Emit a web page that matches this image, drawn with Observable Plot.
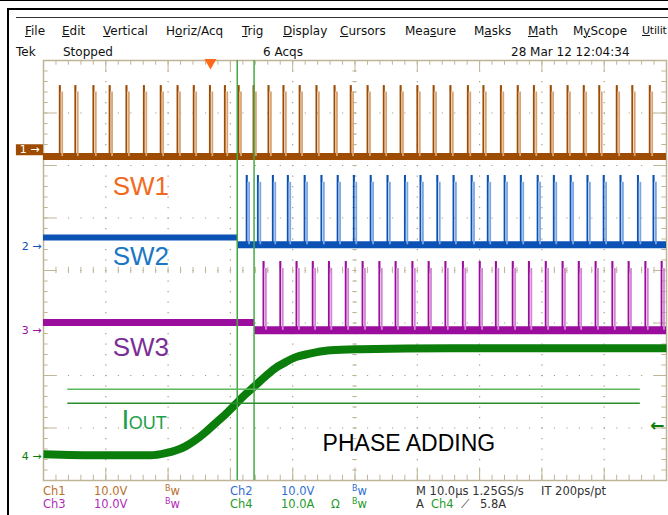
<!DOCTYPE html>
<html><head><meta charset="utf-8">
<script src="https://cdn.jsdelivr.net/npm/d3@7"></script>
<script src="https://cdn.jsdelivr.net/npm/@observablehq/plot@0.6"></script>
<style>
body{margin:0;background:#fff;width:668px;height:515px;position:relative;overflow:hidden;font-family:"DejaVu Sans",sans-serif;}
.a{position:absolute;white-space:nowrap;}
.m{position:absolute;top:23.5px;font-size:12px;color:#111;white-space:nowrap;}
.s{position:absolute;top:45px;font-size:12px;color:#111;white-space:nowrap;}
.r1{position:absolute;top:484px;font-size:11.5px;white-space:nowrap;}
.r2{position:absolute;top:497px;font-size:11.5px;white-space:nowrap;}
.bw b{font-weight:normal;font-size:8px;position:relative;top:-4px;}
#chart svg{overflow:visible;background:transparent;}
</style></head><body>
<div class="a" style="left:0;top:0;width:668px;height:1px;background:#000"></div>
<div class="a" style="left:7px;top:8px;width:661px;height:507px;border-top:2px solid #000;border-left:2px solid #000"></div>
<div class="a" style="left:16px;top:17px;width:652px;height:1px;background:#333"></div>
<div id="chart" class="a" style="left:0;top:52px"></div>

<span class="m" style="left:25px"><u>F</u>ile</span>
<span class="m" style="left:62px"><u>E</u>dit</span>
<span class="m" style="left:103px"><u>V</u>ertical</span>
<span class="m" style="left:166px">H<u>o</u>riz/Acq</span>
<span class="m" style="left:242px"><u>T</u>rig</span>
<span class="m" style="left:283px"><u>D</u>isplay</span>
<span class="m" style="left:340px"><u>C</u>ursors</span>
<span class="m" style="left:405px">Mea<u>s</u>ure</span>
<span class="m" style="left:474px">M<u>a</u>sks</span>
<span class="m" style="left:528px"><u>M</u>ath</span>
<span class="m" style="left:573px">M<u>y</u>Scope</span>
<span class="m" style="left:642px;font-size:11px;letter-spacing:-0.2px"><u>U</u>tilit</span>

<span class="s" style="left:16px">Tek</span>
<span class="s" style="left:63px">Stopped</span>
<span class="s" style="left:263px">6 Acqs</span>
<span class="s" style="left:511px">28 Mar 12 12:04:34</span>

<span class="r1" style="left:43px;color:#b8702e">Ch1</span>
<span class="r1" style="left:94px;color:#b8702e">10.0V</span>
<span class="r1 bw" style="left:165px;color:#b8702e"><b>B</b>w</span>
<span class="r1" style="left:230px;color:#2f6fd0">Ch2</span>
<span class="r1" style="left:281px;color:#2f6fd0">10.0V</span>
<span class="r1 bw" style="left:352px;color:#2f6fd0"><b>B</b>w</span>
<span class="r1" style="left:416px;color:#333">M 10.0µs 1.25GS/s</span>
<span class="r1" style="left:541px;color:#333">IT 200ps/pt</span>

<span class="r2" style="left:43px;color:#b02cb8">Ch3</span>
<span class="r2" style="left:94px;color:#b02cb8">10.0V</span>
<span class="r2 bw" style="left:165px;color:#b02cb8"><b>B</b>w</span>
<span class="r2" style="left:230px;color:#1f9a2a">Ch4</span>
<span class="r2" style="left:281px;color:#1f9a2a">10.0A</span>
<span class="r2" style="left:331px;color:#1f9a2a">Ω</span>
<span class="r2 bw" style="left:352px;color:#1f9a2a"><b>B</b>w</span>
<span class="r2" style="left:416px;color:#333">A</span>
<span class="r2" style="left:431px;color:#1f9a2a">Ch4</span>
<span class="r2" style="left:461px;color:#333">⟋</span>
<span class="r2" style="left:480px;color:#333">5.8A</span>

<script>
// ---- horizontal: 10 µs/div, 10 divisions ; vertical: 8 divisions, 10 V (A)/div
const timeDomain = [0, 100];
const divDomain = [-4, 4];
const perDiv = 10;

// channel ground positions (divisions from centre)
const ch1Pos = 2.30, ch2Pos = 0.46, ch3Pos = -1.14, ch4Pos = -3.54;

// Ch1 (SW1) : low / pulse top / pulse shoulder (V) and pulse times (µs)
const ch1Levels = [-1.3, 12.2, 11.0];
const ch1Pulses = [2.6, 5.1, 8.0, 10.6, 13.3, 16.1, 18.8, 21.5, 24.1, 26.7, 29.1, 31.3, 33.7, 36.1, 38.5, 41.1, 43.8, 46.7, 49.3, 52.0, 54.6, 57.3, 60.0, 62.6, 65.3, 68.1, 70.6, 73.4, 76.1, 78.7, 81.4, 84.1, 86.7, 89.2, 92.0, 94.5, 97.3];

// Ch2 (SW2): level before / after turn-on, pulse top, shoulder ; turn-on time
const ch2Levels = [1.7, 0.3, 13.5, 12.2];
const ch2Start = 31.3;
const ch2Pulses = [32.6, 34.4, 36.8, 39.2, 41.9, 44.6, 47.2, 49.8, 52.5, 55.2, 58.0, 60.5, 63.2, 65.8, 68.7, 71.3, 74.0, 76.6, 79.3, 81.9, 84.6, 87.3, 89.9, 92.6, 95.4, 97.9];

// Ch3 (SW3)
const ch3Levels = [1.5, 0.0, 13.1, 11.8];
const ch3Start = 33.9;
const ch3Pulses = [35.3, 38.0, 40.6, 43.2, 45.8, 48.5, 51.2, 53.9, 56.5, 59.2, 61.8, 64.5, 67.3, 70.0, 72.6, 75.3, 77.9, 80.6, 83.3, 85.9, 88.6, 91.3, 93.9, 96.6, 99.2];
const pulseWidth = 0.4;

// Ch4 (IOUT) in A
const iTime = [0, 9.2, 17.2, 19.6, 21.2, 22.8, 24.4, 26.0, 27.6, 29.2, 30.8, 32.4, 34.0, 35.6, 37.2, 38.8, 40.5, 42.1, 43.7, 46.1, 50.9, 65.3, 81.4, 100];
const iAmps = [0.4, 0.2, 0.2, 0.6, 1.1, 1.9, 3.1, 4.6, 6.3, 8.0, 9.9, 11.8, 13.5, 15.2, 16.8, 17.9, 18.9, 19.4, 19.8, 20.2, 20.4, 20.6, 20.6, 20.6];

// cursors and trigger
const cursorTimes = [31.1, 33.8];
const cursorAmps = [12.8, 10.1];
const cursorSpan = [3.9, 95.8];
const trigTime = 26.8;
const trigLevel = 5.8;

// annotations
const labels = ["SW1", "SW2", "SW3", "PHASE ADDING"];
const labelT = [11.1, 11.1, 11.1, 44.8];
const labelDiv = [1.43, 0.11, -1.62, -3.43];
const labelColors = ["#f26a21", "#1b77c6", "#7a2f96", "#000000"];
const labelSizes = [26, 26, 26, 23];
const ioutParts = ["I", "OUT"];
const ioutT = [12.5, 13.7];
const ioutSizes = [28, 18];
const ioutDiv = -3.01;

// graticule ticks
const majorT = d3.range(0, 100.001, 10);
const minorT = d3.range(0, 100.001, 2);
const majorDiv = d3.range(-4, 4.001, 1);
const minorDiv = d3.range(-4, 4.001, 0.2);

const c1 = "#9e4c02", c1l = "#d9a473";
const c2 = "#0b52b4", c2l = "#7aa6e2";
const c3 = "#9b0d9d", c3l = "#d384d4";
const c4 = "#0b7d0b";
const cur = "#45a845", curDark = "#2a8c2a";
const gratic = "#bfb596", dotC = "#a59d86";

const v = (pos) => (val) => pos + val / perDiv;
const k = (c) => () => c;

function channelMarks(pulses, pos, low, top, shoulder, dark, light) {
  const y = v(pos);
  return [
    Plot.ruleX(pulses, {x: t => t + pulseWidth, y1: k(y(low)), y2: k(y(shoulder)), stroke: light, strokeWidth: 1.8}),
    Plot.ruleX(pulses, {x: t => t, y1: k(y(low)), y2: k(y(top)), stroke: dark, strokeWidth: 1.8}),
    Plot.rect(pulses, {x1: t => t, x2: t => t + pulseWidth * 0.6, y1: k(y(shoulder)), y2: k(y(top)), fill: dark})
  ];
}

const chart = Plot.plot({
  width: 668, height: 434,
  marginLeft: 43, marginRight: 2, marginTop: 8, marginBottom: 6,
  x: {domain: timeDomain, axis: null},
  y: {domain: divDomain, axis: null},
  style: {fontFamily: "Liberation Sans, Arial, sans-serif", overflow: "visible", background: "transparent"},
  marks: [
    // dotted graticule
    Plot.ruleX(majorT.slice(1, -1), {stroke: dotC, strokeWidth: 1.2, strokeDasharray: "1.2,9.3"}),
    Plot.ruleY(majorDiv.slice(1, -1), {stroke: dotC, strokeWidth: 1.2, strokeDasharray: "1.2,11.26"}),
    // centre cross ticks
    Plot.ruleY(minorDiv, {x1: k(49.65), x2: k(50.35), stroke: gratic}),
    Plot.ruleX(minorT, {y1: k(-0.06), y2: k(0.06), stroke: gratic}),
    // edge ticks
    Plot.ruleX(minorT, {y1: k(4), y2: k(3.91), stroke: gratic}),
    Plot.ruleX(majorT, {y1: k(4), y2: k(3.78), stroke: gratic}),
    Plot.ruleX(minorT, {y1: k(-4), y2: k(-3.9), stroke: gratic}),
    Plot.ruleX(majorT, {y1: k(-4), y2: k(-3.76), stroke: gratic}),
    Plot.ruleY(minorDiv, {x1: k(0), x2: k(0.75), stroke: gratic}),
    Plot.ruleY(majorDiv, {x1: k(0), x2: k(2.0), stroke: gratic}),
    Plot.ruleY(minorDiv, {x1: k(100), x2: k(99.25), stroke: gratic}),
    Plot.ruleY(majorDiv, {x1: k(100), x2: k(98.0), stroke: gratic}),
    Plot.frame({stroke: gratic, strokeWidth: 1.5}),

    // Ch1
    Plot.ruleY([ch1Levels[0]], {y: v(ch1Pos), x1: k(timeDomain[0]), x2: k(timeDomain[1]), stroke: c1, strokeWidth: 7}),
    ...channelMarks(ch1Pulses, ch1Pos, ch1Levels[0], ch1Levels[1], ch1Levels[2], c1, c1l),

    // Ch2
    Plot.ruleY([ch2Levels[0]], {y: v(ch2Pos), x1: k(timeDomain[0]), x2: k(ch2Start), stroke: c2, strokeWidth: 6}),
    Plot.ruleY([ch2Levels[1]], {y: v(ch2Pos), x1: k(ch2Start), x2: k(timeDomain[1]), stroke: c2, strokeWidth: 7}),
    ...channelMarks(ch2Pulses, ch2Pos, ch2Levels[1], ch2Levels[2], ch2Levels[3], c2, c2l),

    // Ch3
    Plot.ruleY([ch3Levels[0]], {y: v(ch3Pos), x1: k(timeDomain[0]), x2: k(ch3Start), stroke: c3, strokeWidth: 7}),
    Plot.ruleY([ch3Levels[1]], {y: v(ch3Pos), x1: k(ch3Start), x2: k(timeDomain[1]), stroke: c3, strokeWidth: 8}),
    ...channelMarks(ch3Pulses, ch3Pos, ch3Levels[1], ch3Levels[2], ch3Levels[3], c3, c3l),

    // Ch4 IOUT
    Plot.line(iTime, {x: t => t, y: (t, i) => v(ch4Pos)(iAmps[i]), stroke: c4, strokeWidth: 8, curve: "monotone-x", strokeLinecap: "butt"}),

    // cursors
    Plot.ruleX(cursorTimes, {x: t => t, stroke: cur, strokeWidth: 1.5}),
    Plot.ruleY([cursorAmps[0]], {y: v(ch4Pos), x1: k(cursorSpan[0]), x2: k(cursorSpan[1]), stroke: "#5cb85c", strokeWidth: 1.5}),
    Plot.ruleY([cursorAmps[1]], {y: v(ch4Pos), x1: k(cursorSpan[0]), x2: k(cursorSpan[1]), stroke: curDark, strokeWidth: 1.5}),

    // trigger markers
    Plot.dot([trigTime], {x: t => t, y: k(divDomain[1]), symbol: "triangle", rotate: 180, r: 4.5, dy: 2, fill: "#ff6a1a"}),
    Plot.text([trigLevel], {x: k(timeDomain[1]), y: v(ch4Pos), text: k("←"), textAnchor: "end", dx: -2, fill: c4, fontSize: 17, fontWeight: "bold", fontFamily: "DejaVu Sans"}),

    // channel ground markers
    Plot.ruleY([ch1Pos], {y: d => d, x1: k(-4.35), x2: k(0), stroke: c1, strokeWidth: 11}),
    Plot.text([ch1Pos], {x: k(0), y: d => d, text: k("1 →"), textAnchor: "end", dx: -4, fill: "white", fontSize: 11, fontFamily: "DejaVu Sans"}),
    Plot.text([ch2Pos], {x: k(0), y: d => d, text: k("2 →"), textAnchor: "end", dx: -2, fill: c2, fontSize: 11, fontFamily: "DejaVu Sans"}),
    Plot.text([ch3Pos], {x: k(0), y: d => d, text: k("3 →"), textAnchor: "end", dx: -2, fill: c3, fontSize: 11, fontFamily: "DejaVu Sans"}),
    Plot.text([ch4Pos], {x: k(0), y: d => d, text: k("4 →"), textAnchor: "end", dx: -2, fill: c4, fontSize: 11, fontFamily: "DejaVu Sans"}),

    // annotations
    Plot.text(labels, {x: (d, i) => labelT[i], y: (d, i) => labelDiv[i], text: d => d, textAnchor: "start", lineAnchor: "bottom",
      fill: (d, i) => labelColors[i], fontSize: (d, i) => labelSizes[i]}),
    Plot.text(ioutParts, {x: (d, i) => ioutT[i], y: k(ioutDiv), text: d => d, textAnchor: "start", lineAnchor: "bottom",
      fill: "#1f9e4a", fontSize: (d, i) => ioutSizes[i]})
  ]
});
document.getElementById("chart").appendChild(chart);
</script>
</body></html>
